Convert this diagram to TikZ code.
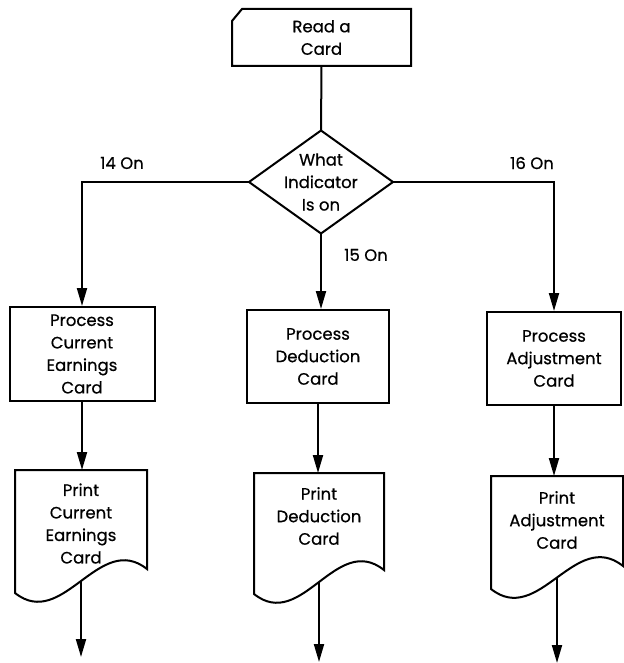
\documentclass[tikz,border=0pt]{standalone}
\usepackage{fontspec}
\setmainfont{Poppins}[FakeBold=0.6]
\usetikzlibrary{arrows.meta,calc}

% Document symbol: straight top and sides, wavy bottom edge.
% #1 node name, #2 drop of the lower left corner, #3 drop of the lower right corner
\newcommand\docoutline[3]{%
  \draw (#1.north west) -- (#1.north east) -- ($(#1.south east)+(0,#3)$)
    .. controls +(-48,-38) and +(48,38) .. ($(#1.south west)+(0,#2)$) -- cycle;
  \coordinate (#1-w) at ($(#1.south west)!0.5!(#1.south east)+(0,{(#2+#3)/2})$);
}

\begin{document}
\begin{tikzpicture}[x=1pt,y=-1pt,line width=2pt,
  every node/.style={font=\fontsize{16.5}{22.5}\selectfont,align=center,inner sep=0pt},
  procbox/.style={draw,line width=2pt},
  flow/.style={-{Triangle[length=18pt,width=10pt]}}]
\useasboundingbox (0,0) rectangle (623,663);

% start: card symbol
\node[minimum width=177,minimum height=55] (read) at (321.5,37.5) {Read a\\Card};
\draw ($(read.north west)+(10,0)$) -- (read.north east) -- (read.south east)
  -- (read.south west) -- ($(read.north west)+(0,12)$) -- cycle;

% decision
\node[minimum width=142,minimum height=101] (dec) at (321,182) {What\\Indicator\\Is on};
\draw (dec.north) -- (dec.east) -- (dec.south) -- (dec.west) -- cycle;

% processing boxes
\node[procbox,minimum width=145,minimum height=94] (p1) at (82,354) {Process\\Current\\Earnings\\Card};
\node[procbox,minimum width=142,minimum height=93] (p2) at (318,356.5) {Process\\Deduction\\Card};
\node[procbox,minimum width=134,minimum height=93] (p3) at (554,358.5) {Process\\Adjustment\\Card};

% printed documents
\node[minimum width=130,minimum height=105] (d1) at (81,523.5) {Print\\Current\\Earnings\\Card};
\node[minimum width=128,minimum height=84] (d2) at (319,516) {Print\\Deduction\\Card};
\node[minimum width=130,minimum height=86] (d3) at (557,520) {Print\\Adjustment\\Card};
\docoutline{d1}{16}{-8}
\docoutline{d2}{35}{11}
\docoutline{d3}{25}{2}

% branch labels
\node (l14) at (122,163) {14 On};
\node (l15) at (366,255) {15 On};
\node (l16) at (532,163) {16 On};

% free ends of the outgoing flows
\coordinate (e1) at (81,657);
\coordinate (e2) at (319,662);
\coordinate (e3) at (557,663);

% flow lines
\draw (read.south) -- (dec.north);
\draw[flow] (dec.west) -| (p1.north);
\draw[flow] (dec.south) -- (dec.south |- p2.north);
\draw[flow] (dec.east) -| (p3.north);
\draw[flow] (p1.south) -- (p1.south |- d1.north);
\draw[flow] (p2.south) -- (p2.south |- d2.north);
\draw[flow] (p3.south) -- (p3.south |- d3.north);
\draw[flow] (d1-w) -- (d1-w |- e1);
\draw[flow] (d2-w) -- (d2-w |- e2);
\draw[flow] (d3-w) -- (d3-w |- e3);
\end{tikzpicture}
\end{document}
